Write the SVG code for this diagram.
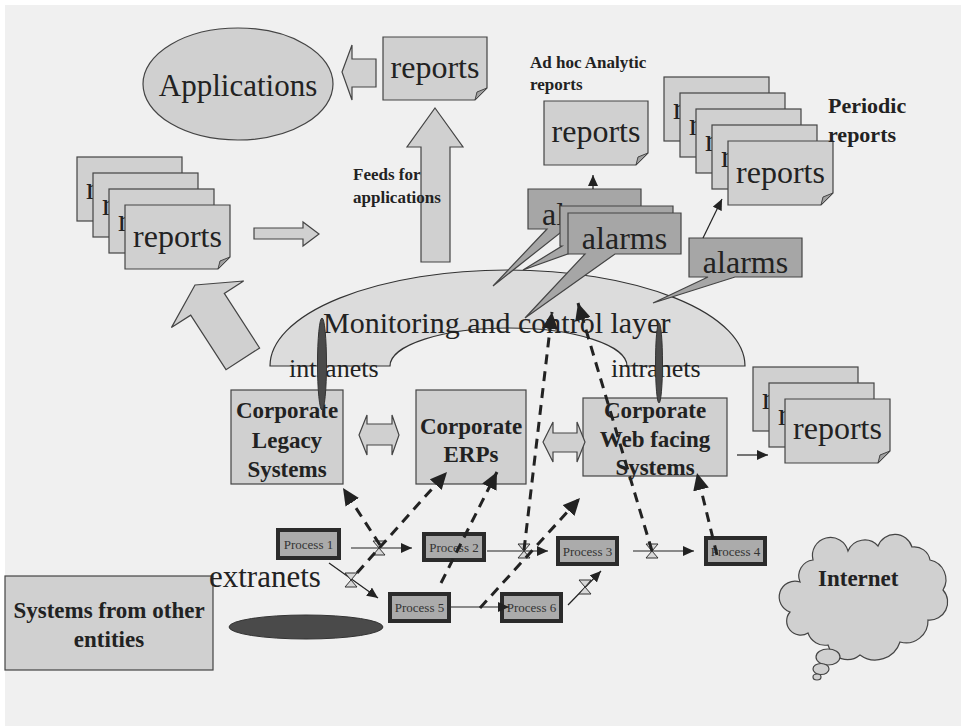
<svg xmlns="http://www.w3.org/2000/svg" width="961" height="726" viewBox="0 0 961 726">
<style>
.t{font-family:"Liberation Serif","Times New Roman",serif;fill:#222}
.b{font-weight:bold}
.box{fill:#d0d0d0;stroke:#444;stroke-width:1.2}
.blk{fill:#d0d0d0;stroke:#444;stroke-width:1.2}
.alarm{fill:#a6a6a6;stroke:#444;stroke-width:1.2}
.proc{fill:#ababab;stroke:#2b2b2b;stroke-width:4}
.fold{fill:#a0a0a0;stroke:#444;stroke-width:1}
.thin{stroke:#222;stroke-width:1.2;fill:none;marker-end:url(#ah)}
.dash{stroke:#222;stroke-width:3;stroke-dasharray:10 7;fill:none;marker-end:url(#dh)}
.valve{fill:#d8d8d8;stroke:#333;stroke-width:1}
.dark{fill:#4a4a4a;stroke:#333;stroke-width:1}
.rep{font-size:32px}
.pt{font-size:13px;fill:#333}
</style>
<defs>
<marker id="ah" markerUnits="userSpaceOnUse" markerWidth="12" markerHeight="10" refX="11" refY="5" orient="auto"><path d="M0 0L11 5L0 10Z" fill="#222"/></marker>
<marker id="dh" markerUnits="userSpaceOnUse" markerWidth="18" markerHeight="16" refX="17" refY="8" orient="auto"><path d="M0 0L17 8L0 16Z" fill="#222"/></marker>
<path id="vlv" d="M-6 -7H6L-6 7H6Z"/>
</defs>
<rect x="5" y="5" width="956" height="721" fill="#f0f0f0"/>

<g id="monitoring-layer">
<path d="M270 366A237.5 96 0 0 1 745 366L627 366A118.5 38 0 0 0 390 366Z" fill="#dcdcdc" stroke="#333" stroke-width="1.2"/>
<text class="t" x="323" y="333" font-size="30">Monitoring and control layer</text>
</g>
<g id="intranets-labels">
<text class="t" x="289" y="377" font-size="26">intranets</text>
<text class="t" x="611" y="377" font-size="26">intranets</text>
</g>

<g id="applications">
<ellipse cx="238" cy="84" rx="95" ry="56" class="box"/>
<text class="t" x="238" y="96" font-size="31" text-anchor="middle">Applications</text>
</g>

<g id="report-top">
<path class="box" d="M383 37H487V88L475 100H383Z"/>
<path class="fold" d="M475 100L487 88L477 92Z"/>
<text class="t rep" x="435" y="78" text-anchor="middle">reports</text>
</g>

<g id="arrow-to-applications"><path class="blk" d="M342 72L352 45V59H376V87H352V100Z"/></g>
<g id="arrow-feeds"><path class="blk" d="M435 108L463 147H450V262H421V147H407Z"/></g>
<g id="label-feeds">
<text class="t b" x="353" y="180" font-size="17">Feeds for</text>
<text class="t b" x="353" y="203" font-size="17">applications</text>
</g>

<g id="report-stack-left">
<rect class="box" x="77" y="157" width="105" height="64"/><text class="t rep" x="86" y="199">r</text>
<rect class="box" x="93" y="173" width="105" height="64"/><text class="t rep" x="102" y="215">r</text>
<rect class="box" x="109" y="189" width="105" height="64"/><text class="t rep" x="118" y="231">r</text>
<path class="box" d="M125 205H230V257L218 269H125Z"/>
<path class="fold" d="M218 269L230 257L220 261Z"/>
<text class="t rep" x="177.5" y="247" text-anchor="middle">reports</text>
</g>
<g id="arrow-right-small"><path class="blk" d="M254 228H303V222L319 234L303 246V239H254Z"/></g>
<g id="arrow-diagonal"><path class="blk" d="M195 285L243.6 281L224.3 293.4L259.6 348L226 369.7L190.7 315.2L171.4 327.6Z"/></g>

<g id="label-adhoc">
<text class="t b" x="530" y="68" font-size="17">Ad hoc Analytic</text>
<text class="t b" x="530" y="90" font-size="17">reports</text>
</g>
<g id="report-adhoc">
<path class="box" d="M544 101H648V153L636 165H544Z"/>
<path class="fold" d="M636 165L648 153L638 157Z"/>
<text class="t rep" x="596" y="142" text-anchor="middle">reports</text>
</g>

<g id="report-stack-periodic">
<rect class="box" x="664" y="77" width="105" height="64"/><text class="t rep" x="673" y="119">r</text>
<rect class="box" x="680" y="93" width="105" height="64"/><text class="t rep" x="689" y="135">r</text>
<rect class="box" x="696" y="109" width="105" height="64"/><text class="t rep" x="705" y="151">r</text>
<rect class="box" x="712" y="125" width="105" height="64"/><text class="t rep" x="721" y="167">r</text>
<path class="box" d="M728 141H833V193L821 205H728Z"/>
<path class="fold" d="M821 205L833 193L823 197Z"/>
<text class="t rep" x="780.5" y="183" text-anchor="middle">reports</text>
</g>
<g id="label-periodic">
<text class="t b" x="828" y="113" font-size="22">Periodic</text>
<text class="t b" x="828" y="142" font-size="22">reports</text>
</g>

<g id="alarm-1">
<path class="alarm" d="M528 189H641V229H565L493 286L547 229H528Z"/>
<text class="t rep" x="542" y="225">al</text>
</g>
<g id="alarm-2"><path class="alarm" d="M560 206H673V246H590L523 270L562 246H560Z"/></g>
<g id="alarm-3">
<path class="alarm" d="M568 213H681V254H615L525 318L585 254H568Z"/>
<text class="t rep" x="624.5" y="249" text-anchor="middle">alarms</text>
</g>
<g id="alarm-4">
<path class="alarm" d="M689 238H802V277H735L653 303L708 277H689Z"/>
<text class="t rep" x="745.5" y="273" text-anchor="middle">alarms</text>
</g>

<g id="corporate-legacy">
<rect class="box" x="231" y="390" width="112" height="94"/>
<text class="t b" font-size="23" text-anchor="middle"><tspan x="287" y="418">Corporate</tspan><tspan x="287" y="448">Legacy</tspan><tspan x="287" y="477">Systems</tspan></text>
</g>
<g id="corporate-erps">
<rect class="box" x="416" y="390" width="110" height="94"/>
<text class="t b" font-size="23" text-anchor="middle"><tspan x="471" y="434">Corporate</tspan><tspan x="471" y="462">ERPs</tspan></text>
</g>
<g id="corporate-web">
<rect class="box" x="583" y="398" width="144" height="78"/>
<text class="t b" font-size="23" text-anchor="middle"><tspan x="655" y="418">Corporate</tspan><tspan x="655" y="447">Web facing</tspan><tspan x="655" y="475">Systems</tspan></text>
</g>
<g id="intranet-links">
<ellipse class="dark" cx="322" cy="364" rx="4.5" ry="46"/>
<ellipse class="dark" cx="659" cy="363" rx="3.5" ry="40"/>
</g>
<g id="double-arrows">
<path class="blk" d="M359 435L367 415V424H392V415L399 435L392 455V445H367V455Z"/>
<path class="blk" d="M543 442L553 422V433H577V422L585 442L577 462V452H553V462Z"/>
</g>

<g id="report-stack-right">
<rect class="box" x="753" y="367" width="105" height="64"/><text class="t rep" x="762" y="409">r</text>
<rect class="box" x="769" y="383" width="105" height="64"/><text class="t rep" x="778" y="425">r</text>
<path class="box" d="M785 399H890V451L878 463H785Z"/>
<path class="fold" d="M878 463L890 451L880 455Z"/>
<text class="t rep" x="837.5" y="439" text-anchor="middle">reports</text>
</g>

<g id="systems-other">
<rect class="box" x="5" y="576" width="208" height="94"/>
<text class="t b" font-size="23" text-anchor="middle"><tspan x="109" y="618">Systems from other</tspan><tspan x="109" y="647">entities</tspan></text>
</g>
<g id="extranets">
<text class="t" x="209" y="587" font-size="31">extranets</text>
<ellipse class="dark" cx="306" cy="627" rx="77" ry="12"/>
</g>

<g id="internet">
<path class="box" d="M800 582A16 16 0 0 1 813 560A18 18 0 0 1 848 551A18 18 0 0 1 878 546A18 18 0 0 1 912 547A16 16 0 0 1 930 560A20 20 0 0 1 943 590A18 18 0 0 1 928 620A22 22 0 0 1 900 642A26 26 0 0 1 860 655A20 20 0 0 1 828 645A18 18 0 0 1 808 633A14 14 0 0 1 790 612A12 12 0 0 1 800 582Z"/>
<ellipse class="box" cx="828" cy="657" rx="12" ry="8"/>
<ellipse class="box" cx="821" cy="669" rx="8" ry="5.5"/>
<ellipse class="box" cx="817" cy="677" rx="4" ry="3"/>
<text class="t b" x="818" y="586" font-size="23">Internet</text>
</g>

<g id="process-1"><rect class="proc" x="278" y="530" width="61" height="28"/><text class="t pt" x="308.5" y="548.5" text-anchor="middle">Process 1</text></g>
<g id="process-2"><rect class="proc" x="424" y="534" width="60" height="26"/><text class="t pt" x="454" y="551.5" text-anchor="middle">Process 2</text></g>
<g id="process-3"><rect class="proc" x="558" y="538" width="59" height="26"/><text class="t pt" x="587.5" y="555.5" text-anchor="middle">Process 3</text></g>
<g id="process-4"><rect class="proc" x="706" y="538" width="59" height="26"/><text class="t pt" x="735.5" y="555.5" text-anchor="middle">Process 4</text></g>
<g id="process-5"><rect class="proc" x="390" y="594" width="59" height="27"/><text class="t pt" x="419.5" y="612" text-anchor="middle">Process 5</text></g>
<g id="process-6"><rect class="proc" x="502" y="594" width="59" height="27"/><text class="t pt" x="531.5" y="612" text-anchor="middle">Process 6</text></g>

<g id="connectors">
<line class="thin" x1="351" y1="548" x2="412" y2="548"/>
<line class="thin" x1="487" y1="551" x2="548" y2="551"/>
<line class="thin" x1="633" y1="551" x2="694" y2="551"/>
<line class="thin" x1="329" y1="563" x2="378" y2="598"/>
<line class="thin" x1="451" y1="607" x2="509" y2="607"/>
<line class="thin" x1="568" y1="605" x2="601" y2="571"/>
<line class="thin" x1="737" y1="455" x2="768" y2="455"/>
<line class="thin" x1="593" y1="189" x2="593" y2="175"/>
<line class="thin" x1="703" y1="238" x2="722" y2="199"/>
<use href="#vlv" class="valve" x="379" y="548"/>
<use href="#vlv" class="valve" x="524" y="551"/>
<use href="#vlv" class="valve" x="652" y="551"/>
<use href="#vlv" class="valve" x="351" y="580"/>
<use href="#vlv" class="valve" x="585" y="587"/>
<line class="dash" x1="380" y1="545" x2="343" y2="488"/>
<line class="dash" x1="357" y1="573" x2="447" y2="472"/>
<line class="dash" x1="441" y1="583" x2="497" y2="472"/>
<line class="dash" x1="524" y1="550" x2="552" y2="312"/>
<line class="dash" x1="480" y1="608" x2="580" y2="498"/>
<line class="dash" x1="652" y1="551" x2="578" y2="303"/>
<line class="dash" x1="717" y1="555" x2="697" y2="473"/>
</g>
</svg>
